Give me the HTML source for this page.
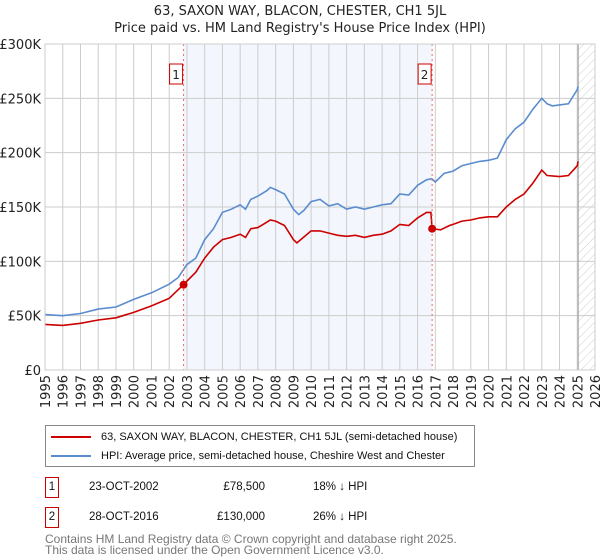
<!DOCTYPE html>
<html><head><meta charset="utf-8"><style>
body{margin:0;background:#fff;font-family:"Liberation Sans","DejaVu Sans",sans-serif;}
#wrap{position:relative;width:600px;height:560px;overflow:hidden;}
svg text{font-family:"DejaVu Sans","Liberation Sans",sans-serif;}
</style></head><body>
<div id="wrap">
<svg id="svg" width="600" height="560" style="position:absolute;left:0;top:0">
<defs><pattern id="hatch" width="6" height="6" patternUnits="userSpaceOnUse" patternTransform="rotate(45)"><line x1="0" y1="0" x2="0" y2="6" stroke="#ccc" stroke-width="1"/></pattern></defs>
<text x="300" y="15" text-anchor="middle" font-size="13" fill="#222">63, SAXON WAY, BLACON, CHESTER, CH1 5JL</text>
<text x="300" y="32" text-anchor="middle" font-size="13" fill="#222">Price paid vs. HM Land Registry's House Price Index (HPI)</text>
<g id="grid"></g><g id="series"></g><g id="axes"></g>
</svg>
<div style="position:absolute;left:45px;top:425px;width:428px;height:40px;border:1px solid #888;font-size:11px;color:#111">
 <div style="position:absolute;left:5px;top:5px;white-space:nowrap"><span style="display:inline-block;width:40px;height:2px;background:#cc0000;vertical-align:middle;margin-right:10px"></span>63, SAXON WAY, BLACON, CHESTER, CH1 5JL (semi-detached house)</div>
 <div style="position:absolute;left:5px;top:24px;white-space:nowrap"><span style="display:inline-block;width:40px;height:2px;background:#5b8ccf;vertical-align:middle;margin-right:10px"></span>HPI: Average price, semi-detached house, Cheshire West and Chester</div>
</div>
<div style="font-size:11.5px;color:#111">
 <div style="position:absolute;left:45px;top:477px;width:12px;height:19px;border:1px solid #cc0000;text-align:center;line-height:19px">1</div>
 <div style="position:absolute;left:89px;top:481px">23-OCT-2002</div>
 <div style="position:absolute;left:180px;width:85px;text-align:right;top:481px">£78,500</div>
 <div style="position:absolute;left:313px;top:481px">18% ↓ HPI</div>
 <div style="position:absolute;left:45px;top:507px;width:12px;height:19px;border:1px solid #cc0000;text-align:center;line-height:19px">2</div>
 <div style="position:absolute;left:89px;top:511px">28-OCT-2016</div>
 <div style="position:absolute;left:180px;width:85px;text-align:right;top:511px">£130,000</div>
 <div style="position:absolute;left:313px;top:511px">26% ↓ HPI</div>
</div>
<div style="position:absolute;left:45px;top:534px;font-size:12px;color:#777;line-height:11px">Contains HM Land Registry data © Crown copyright and database right 2025.<br>This data is licensed under the Open Government Licence v3.0.</div>
</div>
<script>
const hpiYears=[1995,1996,1997,1998,1999,2000,2001,2002,2002.5,2003,2003.5,2004,2004.5,2005,2005.5,2006,2006.3,2006.6,2007,2007.5,2007.7,2008,2008.5,2009,2009.3,2009.6,2010,2010.5,2011,2011.5,2012,2012.5,2013,2013.5,2014,2014.5,2015,2015.5,2016,2016.5,2016.8,2017,2017.5,2018,2018.5,2019,2019.5,2020,2020.5,2021,2021.5,2022,2022.5,2023,2023.3,2023.6,2024,2024.5,2025,2025.05];
const hpiValues=[51,50,52,56,58,65,71,79,85,97,103,120,130,145,148,152,148,157,160,165,168,166,162,148,143,147,155,157,151,153,148,150,148,150,152,153,162,161,170,175,176,173,181,183,188,190,192,193,195,212,222,228,240,250,245,243,244,245,258,261];
const propYears=[1995,1996,1997,1998,1999,2000,2001,2002,2002.8,2003.5,2004,2004.5,2005,2005.5,2006,2006.3,2006.6,2007,2007.5,2007.7,2008,2008.5,2009,2009.2,2010,2010.5,2011,2011.5,2012,2012.5,2013,2013.5,2014,2014.5,2015,2015.5,2016,2016.5,2016.75,2016.82,2017.3,2017.8,2018,2018.5,2019,2019.5,2020,2020.5,2021,2021.5,2022,2022.5,2023,2023.3,2024,2024.5,2025,2025.05];
const propValues=[42,41,43,46,48,53,59,66,78.5,90,103,113,120,122,125,122,130,131,136,138,137,133,120,117,128,128,126,124,123,124,122,124,125,128,134,133,140,145,145,130,129,133,134,137,138,140,141,141,150,157,162,172,184,179,178,179,188,192];
const saleYears=[2002.81,2016.82];
const saleValues=[78.5,130];
const saleLabels=["1","2"];
const yTicks=[0,50,100,150,200,250,300];
const yTickLabels=["£0","£50K","£100K","£150K","£200K","£250K","£300K"];
const xTicks=[1995,1996,1997,1998,1999,2000,2001,2002,2003,2004,2005,2006,2007,2008,2009,2010,2011,2012,2013,2014,2015,2016,2017,2018,2019,2020,2021,2022,2023,2024,2025,2026];

const L=45,R=595,T=44,B=370;
const xs=y=>L+(y-1995)/(2026-1995)*(R-L);
const ys=v=>B-v/300*(B-T);
const NS="http://www.w3.org/2000/svg";
function mk(tag,attrs,parent){const e=document.createElementNS(NS,tag);for(const k in attrs)e.setAttribute(k,attrs[k]);parent.appendChild(e);return e;}
const grid=document.getElementById('grid'),series=document.getElementById('series'),axes=document.getElementById('axes');
let band=mk('rect',{x:xs(saleYears[0]),y:T,width:xs(saleYears[1])-xs(saleYears[0]),height:B-T,fill:'#eef3fc',opacity:0.7},grid);


let hatch=mk('rect',{x:xs(2025.05),y:T,width:R-xs(2025.05),height:B-T,fill:'url(#hatch)'},grid);


yTicks.forEach((v,i)=>{
 let g=mk('line',{x1:L,x2:R,y1:ys(v),y2:ys(v),stroke:'#ccc','stroke-width':1},grid);
 
 
 let t=mk('text',{x:L-4,y:ys(v)+5,'text-anchor':'end','font-size':13,fill:'#222'},axes);
 t.textContent=yTickLabels[i];
 
 
});
xTicks.forEach(y=>{
 let g=mk('line',{x1:xs(y),x2:xs(y),y1:T,y2:B,stroke:'#ccc','stroke-width':1},grid);
 
 
 let t=mk('text',{x:0,y:0,'text-anchor':'end','font-size':13,fill:'#222',transform:`translate(${xs(y)+5},${B+5}) rotate(-90)`},axes);
 t.textContent=y;
 
 
});
let vline=mk('line',{x1:xs(2025.05),x2:xs(2025.05),y1:T,y2:B,stroke:'#999','stroke-width':1},grid);


function path(xa,va,color,name){
 const d=xa.map((x,i)=>(i?'L':'M')+xs(x).toFixed(1)+','+ys(va[i]).toFixed(1)).join('');
 let p=mk('path',{d:d,fill:'none',stroke:color,'stroke-width':1.6},series);
 
 
}
path(hpiYears,hpiValues,'#5b8ccf','hpi-line');
path(propYears,propValues,'#cc0000','property-price-line');
saleYears.forEach((y,i)=>{
 let l=mk('line',{x1:xs(y),x2:xs(y),y1:T,y2:B,stroke:'#e66','stroke-width':1,'stroke-dasharray':'2,3'},series);
 
 
 let c=mk('circle',{cx:xs(y),cy:ys(saleValues[i]),r:4,fill:'#cc0000'},series);
 
 
 let r=mk('rect',{x:xs(y)-14,y:64,width:13,height:20,fill:'#fff',stroke:'#cc0000','stroke-width':1},series);
 
 
 let t=mk('text',{x:xs(y)-7.5,y:79,'text-anchor':'middle','font-size':12,fill:'#222'},series);
 t.textContent=saleLabels[i];
 
 
});
let frame=mk('rect',{x:L,y:T,width:R-L,height:B-T,fill:'none',stroke:'#ccc'},axes);


</script>
</body></html>
